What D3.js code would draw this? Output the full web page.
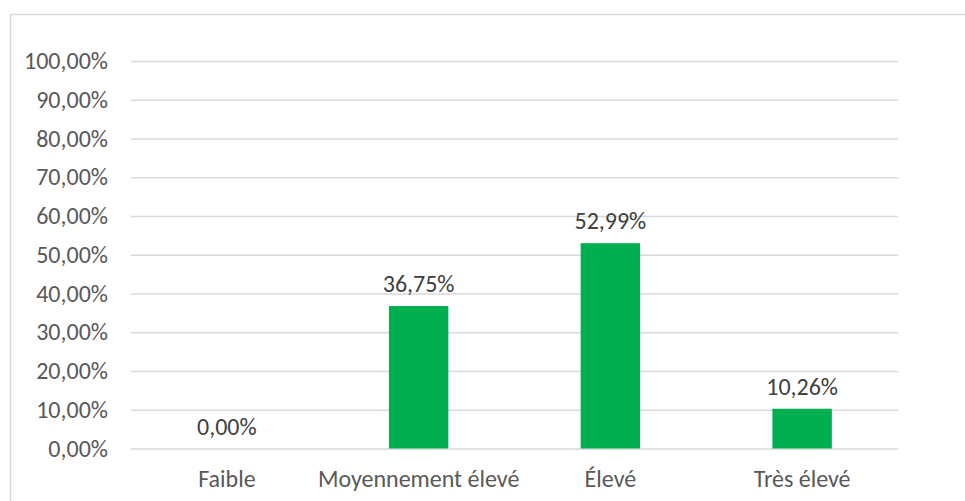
<!DOCTYPE html>
<html><head><meta charset="utf-8">
<script src="https://cdn.jsdelivr.net/npm/d3@7"></script>
<style>html,body{margin:0;padding:0;background:#fff;}svg{display:block;}</style>
</head><body>
<script>
const categories = ["Faible", "Moyennement élevé", "Élevé", "Très élevé"];
const values = [0.00, 36.75, 52.99, 10.26];
const valueLabels = ["0,00%", "36,75%", "52,99%", "10,26%"];
const yTicks = [0,10,20,30,40,50,60,70,80,90,100];
const yTickLabels = ["0,00%","10,00%","20,00%","30,00%","40,00%","50,00%","60,00%","70,00%","80,00%","90,00%","100,00%"];

const W = 965, H = 501;
const font = "Carlito, Lato, 'Open Sans', sans-serif";
const fs = "24px";
const svg = d3.select("body").append("svg").attr("width", W).attr("height", H);

svg.append("rect").attr("x", 10.5).attr("y", 14.5).attr("width", 970).attr("height", 500)
  .attr("fill", "#fff").attr("stroke", "#d9d9d9").attr("stroke-width", 1.5);

const x = d3.scaleBand().domain(categories).range([131, 898]).paddingInner(0.69).paddingOuter(0.345);
const y = d3.scaleLinear().domain([0, 100]).range([448.5, 61]);

const g = svg.append("g");
const yAxis = d3.axisLeft(y).tickValues(yTicks).tickSize(-(898-131)).tickPadding(23)
  .tickFormat((d,i) => yTickLabels[i]);
const ya = g.append("g").attr("transform", "translate(131,0)").call(yAxis);
ya.select(".domain").remove();
ya.selectAll(".tick line").attr("stroke", "#d9d9d9").attr("stroke-width", 1.3);
ya.selectAll(".tick text").attr("fill", "#595959").style("font-family", font).style("font-size", fs);

g.selectAll("rect.bar").data(values).enter().append("rect").attr("class","bar")
  .attr("x", (d,i) => x(categories[i])).attr("width", x.bandwidth())
  .attr("y", d => y(d)).attr("height", d => y(0) - y(d)).attr("fill", "#00b050");

g.selectAll("text.vl").data(values).enter().append("text").attr("class","vl")
  .attr("x", (d,i) => x(categories[i]) + x.bandwidth()/2)
  .attr("y", d => y(d) - 14).attr("text-anchor", "middle")
  .attr("fill", "#404040").style("font-family", font).style("font-size", fs)
  .text((d,i) => valueLabels[i]);

const xAxis = d3.axisBottom(x).tickSize(0).tickPadding(21);
const xa = g.append("g").attr("transform", `translate(0,${y(0)})`).call(xAxis);
xa.select(".domain").remove();
xa.selectAll(".tick text").attr("fill", "#595959").style("font-family", font).style("font-size", fs);
</script>
</body></html>
